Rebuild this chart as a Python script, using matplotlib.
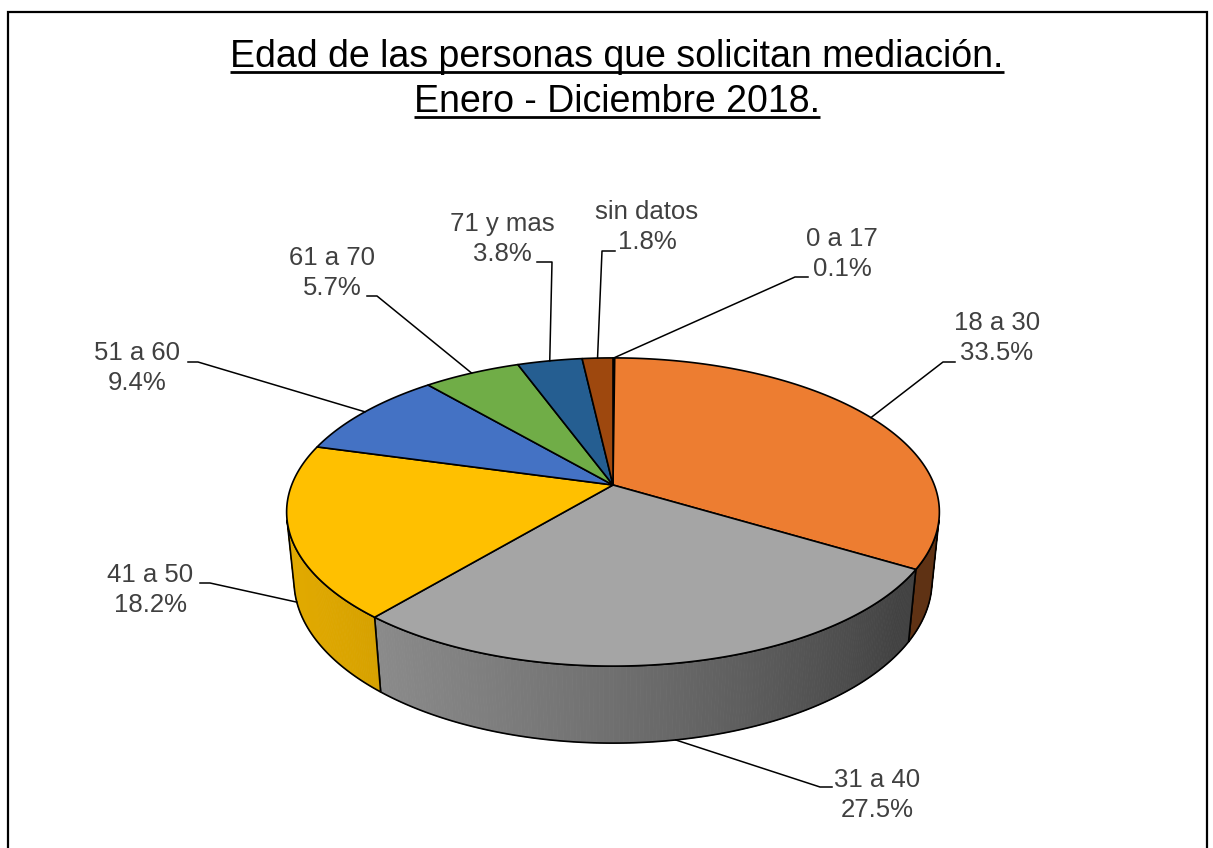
import numpy as np
import matplotlib
matplotlib.use('Agg')
import matplotlib.pyplot as plt
from matplotlib.patches import Polygon

# datos del grafico
grupos = ['0 a 17', '18 a 30', '31 a 40', '41 a 50', '51 a 60', '61 a 70', '71 y mas', 'sin datos']
porcentajes = [0.1, 33.5, 27.5, 18.2, 9.4, 5.7, 3.8, 1.8]
colores = ['#5B9BD5', '#ED7D31', '#A5A5A5', '#FFC000', '#4472C4', '#70AD47', '#255E91', '#9E480E']
titulo = ['Edad de las personas que solicitan mediación.', 'Enero - Diciembre 2018.']

# posiciones de las etiquetas (centro del texto) y codo de la linea guia
pos_texto = [(842, 254), (997, 338), (877, 795), (150, 590), (137, 368), (332, 273), (502, 239), (647, 227)]
codo = [(795, 277, 808), (943, 362, 955), (820, 787, 832), (210, 583, 200),
        (198, 362, 188), (377, 296, 367), (552, 262, 537), (602, 251, 615)]

W, H = 1213, 848
CX, CY = 613, 485
FOCAL, DIST = 1624, 5.054
ELEV = np.radians(27.7)
GROSOR = 0.2436
FUENTE = 'Liberation Sans'


def proyectar(theta, h=0.0):
    # circulo unitario en 3D visto en perspectiva
    s, c = np.sin(ELEV), np.cos(ELEV)
    yv = np.cos(theta) * s + h * c
    zv = np.cos(theta) * c - h * s + DIST
    return CX + FOCAL * np.sin(theta) / zv, CY - FOCAL * yv / zv


def sombra(theta):
    return max(0.40, 0.569 + 0.311 * np.cos(theta - np.radians(250)))


def oscurecer(color, f):
    rgb = np.array(matplotlib.colors.to_rgb(color))
    return tuple(np.clip(rgb * f, 0, 1))


fig = plt.figure(figsize=(W / 100, H / 100), dpi=100)
ax = fig.add_axes([0, 0, 1, 1])
ax.set_xlim(0, W)
ax.set_ylim(H, 0)
ax.axis('off')

# marco
ax.plot([8, 8, 1207, 1207], [H + 5, 12, 12, H + 5], color='black', lw=1.6, solid_joinstyle='miter')

fracs = np.array(porcentajes) / sum(porcentajes)
limites = np.concatenate([[0], np.cumsum(fracs)]) * 2 * np.pi
lim_vis = np.arccos(-1 / (DIST * np.cos(ELEV)))
vis_ini, vis_fin = lim_vis, 2 * np.pi - lim_vis

# paredes laterales con degradado
for i in range(len(grupos)):
    a = max(limites[i], vis_ini)
    b = min(limites[i + 1], vis_fin)
    if b <= a:
        continue
    n = max(2, int(np.degrees(b - a) * 2))
    th = np.linspace(a, b, n + 1)
    for j in range(n):
        t0, t1 = th[j], th[j + 1]
        x0, y0 = proyectar(t0)
        x1, y1 = proyectar(t1)
        x2, y2 = proyectar(t1, -GROSOR)
        x3, y3 = proyectar(t0, -GROSOR)
        col = oscurecer(colores[i], sombra((t0 + t1) / 2))
        ax.add_patch(Polygon([(x0, y0), (x1, y1), (x2, y2), (x3, y3)], closed=True,
                             facecolor=col, edgecolor=col, lw=0.6))
    xt, yt = proyectar(th)
    xb, yb = proyectar(th[::-1], -GROSOR)
    ax.add_patch(Polygon(list(zip(xt, yt)) + list(zip(xb, yb)), closed=True,
                         facecolor='none', edgecolor='black', lw=1.2))

# caras superiores
for i in range(len(grupos)):
    th = np.linspace(limites[i], limites[i + 1], max(3, int(np.degrees(limites[i + 1] - limites[i]) * 2)))
    xs, ys = proyectar(th)
    ax.add_patch(Polygon([(CX, CY)] + list(zip(xs, ys)), closed=True,
                         facecolor=colores[i], edgecolor='black', lw=1.2, joinstyle='round'))

# etiquetas con lineas guia
for i in range(len(grupos)):
    medio = (limites[i] + limites[i + 1]) / 2
    h = -GROSOR if vis_ini < medio < vis_fin else 0.0
    px, py = proyectar(medio, h)
    ex, ey, ex2 = codo[i]
    ax.plot([px, ex, ex2], [py, ey, ey], color='black', lw=1.1)
    tx, ty = pos_texto[i]
    ax.text(tx, ty, '%s\n%.1f%%' % (grupos[i], porcentajes[i]), ha='center', va='center',
            multialignment='center', fontsize=18.5, color='#404040', family=FUENTE, linespacing=1.3)

# titulo subrayado
textos = []
for k, linea in enumerate(titulo):
    textos.append(ax.text(617, 67 + 45 * k, linea, ha='center', va='baseline',
                          fontsize=27, color='black', family=FUENTE))
fig.canvas.draw()
rend = fig.canvas.get_renderer()
inv = ax.transData.inverted()
for k, t in enumerate(textos):
    bb = t.get_window_extent(renderer=rend)
    (x0, _), (x1, _) = inv.transform([(bb.x0, bb.y0), (bb.x1, bb.y1)])
    yb = 67 + 45 * k + 4.5
    ax.plot([x0, x1], [yb, yb], color='black', lw=2.0, solid_capstyle='butt')

fig.savefig('out.png', dpi=100)
